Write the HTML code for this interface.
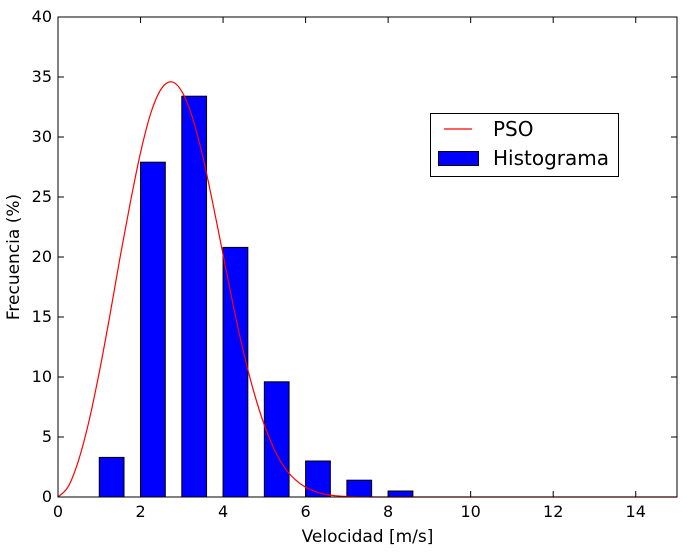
<!DOCTYPE html>
<html><head><meta charset="utf-8"><style>
body{margin:0;background:#fff;}
svg text{font-family:"DejaVu Sans","Liberation Sans",sans-serif;}
</style></head><body>
<svg id="chart" width="687" height="548" xmlns="http://www.w3.org/2000/svg"></svg>
<script>
const barCenters=[1,2,3,4,5,6,7,8];
const barValues=[3.3,27.9,33.4,20.8,9.6,3.0,1.4,0.5];
const curveX=[0,0.25,0.5,0.75,1,1.25,1.5,1.75,2,2.25,2.5,2.75,3,3.25,3.5,3.75,4,4.25,4.5,4.75,5,5.25,5.5,5.75,6,6.25,6.5,6.75,7,7.5,8,9,10,12,15];
const curveY=[0,0.88,3.08,6.31,10.4,15.0,19.9,24.5,28.7,32.0,34.0,34.6,33.8,31.7,28.5,24.5,20.2,15.9,12.0,8.7,6.0,3.9,2.4,1.44,0.81,0.43,0.21,0.10,0.045,0.008,0,0,0,0,0];
const xTicks=[0,2,4,6,8,10,12,14];
const yTicks=[0,5,10,15,20,25,30,35,40];
const L=58,R=677,T=17,B=497;
const xs=v=>L+(v/15)*(R-L), ys=v=>B-(v/40)*(B-T);
const svg=document.getElementById('chart');
const NS='http://www.w3.org/2000/svg';
function mk(tag,attrs,parent){const e=document.createElementNS(NS,tag);for(const k in attrs)e.setAttribute(k,attrs[k]);(parent||svg).appendChild(e);return e;}
const bw=0.6;
barCenters.forEach((c,i)=>{
  const r=mk('rect',{x:xs(c),y:ys(barValues[i]),width:xs(c+bw)-xs(c),height:ys(0)-ys(barValues[i]),fill:'#0000ff',stroke:'#000','stroke-width':1});
  
  
});
const pts=curveX.map((x,i)=>[xs(x),ys(curveY[i])]);
let d='M'+pts[0][0]+','+pts[0][1];
for(let i=0;i<pts.length-1;i++){
  const p0=pts[i-1]||pts[i],p1=pts[i],p2=pts[i+1],p3=pts[i+2]||p2;
  const c1=[p1[0]+(p2[0]-p0[0])/6,p1[1]+(p2[1]-p0[1])/6];
  const c2=[p2[0]-(p3[0]-p1[0])/6,p2[1]-(p3[1]-p1[1])/6];
  d+=' C'+c1[0]+','+Math.min(c1[1],B)+' '+c2[0]+','+Math.min(c2[1],B)+' '+p2[0]+','+p2[1];
}
const p=mk('path',{d:d,fill:'none',stroke:'#ff0000','stroke-width':1.2});


const frame=mk('rect',{x:L,y:T,width:R-L,height:B-T,fill:'none',stroke:'#000','stroke-width':1});


xTicks.forEach(v=>{
  const x=xs(v);
  mk('line',{x1:x,y1:B,x2:x,y2:B-6,stroke:'#000'});
  mk('line',{x1:x,y1:T,x2:x,y2:T+6,stroke:'#000'});
  const t=mk('text',{x:x,y:B+20,'text-anchor':'middle','font-size':16});t.textContent=v;
  
  
});
yTicks.forEach(v=>{
  const y=ys(v);
  mk('line',{x1:L,y1:y,x2:L+6,y2:y,stroke:'#000'});
  mk('line',{x1:R,y1:y,x2:R-6,y2:y,stroke:'#000'});
  const t=mk('text',{x:L-6,y:y+5,'text-anchor':'end','font-size':16});t.textContent=v;
  
  
});
const xt=mk('text',{x:(L+R)/2,y:542,'text-anchor':'middle','font-size':17});xt.textContent='Velocidad [m/s]';


const yt=mk('text',{x:19,y:(T+B)/2,'text-anchor':'middle','font-size':17,transform:'rotate(-90 19 '+((T+B)/2)+')'});yt.textContent='Frecuencia (%)';


const lg=mk('g',{});


mk('rect',{x:430.5,y:113.5,width:188,height:63,fill:'#fff',stroke:'#000'},lg);
mk('line',{x1:444,y1:129,x2:472,y2:129,stroke:'#ff0000','stroke-width':1.2},lg);
const t1=mk('text',{x:493,y:136,'font-size':20},lg);t1.textContent='PSO';


mk('rect',{x:438.5,y:151.5,width:40,height:14,fill:'#0000ff',stroke:'#000'},lg);
const t2=mk('text',{x:493,y:165,'font-size':20},lg);t2.textContent='Histograma';


</script>
</body></html>
